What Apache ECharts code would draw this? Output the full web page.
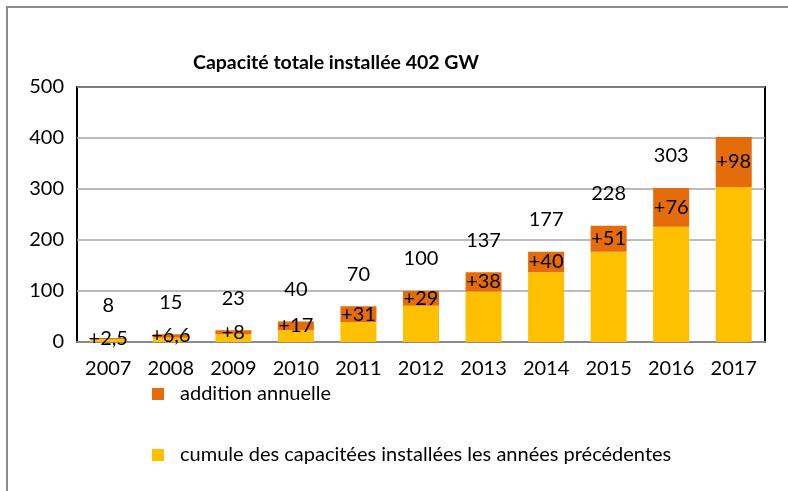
<!DOCTYPE html>
<html>
<head>
<meta charset="utf-8">
<script src="https://cdn.jsdelivr.net/npm/echarts@6/dist/echarts.min.js"></script>
<style>
  html, body { margin: 0; padding: 0; background: #fff; }
  #chart { width: 788px; height: 491px; }
</style>
</head>
<body>
<div id="chart"></div>
<script>
// données
var years = ['2007','2008','2009','2010','2011','2012','2013','2014','2015','2016','2017'];
var cumulPrecedent = [5.5, 8.4, 15, 23, 39, 71, 99, 137, 177, 226, 304];
var additionAnnuelle = [2.5, 6.6, 8, 17, 31, 29, 38, 40, 51, 76, 98];
var totaux = [8, 15, 23, 40, 70, 100, 137, 177, 228, 303, 402];
var yTicks = [0, 100, 200, 300, 400, 500];

var font = 'Lato, "Noto Sans", sans-serif';
var fs = 20;

var chart = echarts.init(document.getElementById('chart'));

var option = {
  animation: false,
  textStyle: { fontFamily: font, color: '#000' },
  title: {
    text: 'Capacité totale installée 402 GW',
    left: 188,
    top: 48,
    textStyle: { fontFamily: font, fontSize: 19.5, fontWeight: 'bold', color: '#000' }
  },
  graphic: [{
    type: 'rect',
    shape: { x: 7, y: 7, width: 800, height: 500 },
    style: { fill: 'none', stroke: '#8c8c8c', lineWidth: 2 },
    silent: true
  }],
  legend: {
    orient: 'vertical',
    left: 147,
    top: 379,
    itemWidth: 12,
    itemHeight: 12,
    itemGap: 41,
    icon: 'rect',
    data: ['addition annuelle', 'cumule des capacitées installées les années précédentes'],
    textStyle: { fontFamily: font, fontSize: fs, color: '#000', padding: [0, 0, 0, 11] }
  },
  grid: {
    left: 77, right: 23, top: 87, bottom: 149,
    show: true,
    borderColor: '#000',
    borderWidth: 2
  },
  xAxis: {
    type: 'category',
    data: years,
    axisLine: { lineStyle: { color: '#8c8c8c', width: 2 } },
    axisTick: { show: false },
    axisLabel: { fontFamily: font, fontSize: fs, color: '#000', margin: 17 }
  },
  yAxis: {
    type: 'value',
    min: yTicks[0],
    max: yTicks[yTicks.length - 1],
    interval: 100,
    axisLine: { show: false },
    axisTick: { show: false },
    axisLabel: { fontFamily: font, fontSize: fs, color: '#000', margin: 13 },
    splitLine: { lineStyle: { color: '#a6a6a6', width: 1.5 } }
  },
  series: [
    {
      name: 'total',
      type: 'bar',
      data: totaux,
      barWidth: 36,
      barGap: '-100%',
      silent: true,
      z: 1,
      itemStyle: { color: 'rgba(0,0,0,0)' },
      label: {
        show: true,
        position: 'top',
        distance: 22,
        fontFamily: font,
        fontSize: fs,
        color: '#000',
        formatter: function (p) {
          return p.dataIndex === years.length - 1 ? '' : String(p.value);
        }
      }
    },
    {
      name: 'cumule des capacitées installées les années précédentes',
      type: 'bar',
      stack: 'cap',
      data: cumulPrecedent,
      barWidth: 36,
      z: 2,
      itemStyle: { color: '#FFC000' }
    },
    {
      name: 'addition annuelle',
      type: 'bar',
      stack: 'cap',
      data: additionAnnuelle,
      barWidth: 36,
      z: 2,
      itemStyle: { color: '#E46C0A' },
      label: {
        show: true,
        position: 'inside',
        fontFamily: font,
        fontSize: fs,
        color: '#000',
        formatter: function (p) {
          return '+' + String(p.value).replace('.', ',');
        }
      }
    }
  ]
};

chart.setOption(option);
</script>
</body>
</html>
